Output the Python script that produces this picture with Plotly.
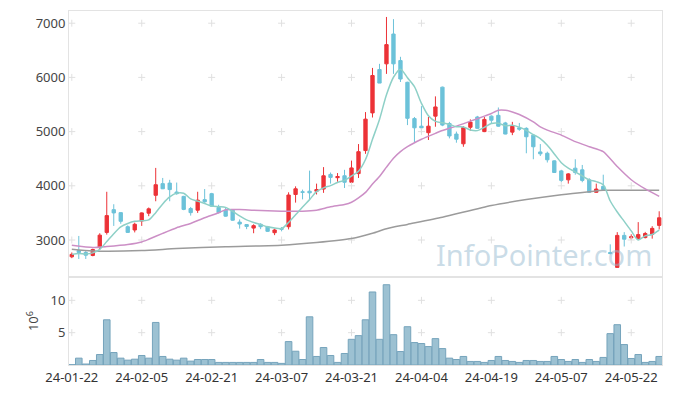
import plotly.graph_objects as go
import pandas as pd

dates = [
    "24-01-22", "24-01-23", "24-01-24", "24-01-25", "24-01-26", "24-01-29", "24-01-30", "24-01-31",
    "24-02-01", "24-02-02", "24-02-05", "24-02-06", "24-02-07", "24-02-08", "24-02-13", "24-02-14",
    "24-02-15", "24-02-16", "24-02-19", "24-02-20", "24-02-21", "24-02-22", "24-02-23", "24-02-26",
    "24-02-27", "24-02-28", "24-02-29", "24-03-04", "24-03-05", "24-03-06", "24-03-07", "24-03-08",
    "24-03-11", "24-03-12", "24-03-13", "24-03-14", "24-03-15", "24-03-18", "24-03-19", "24-03-20",
    "24-03-21", "24-03-22", "24-03-25", "24-03-26", "24-03-27", "24-03-28", "24-03-29", "24-04-01",
    "24-04-02", "24-04-03", "24-04-04", "24-04-05", "24-04-08", "24-04-09", "24-04-11", "24-04-12",
    "24-04-15", "24-04-16", "24-04-17", "24-04-18", "24-04-19", "24-04-22", "24-04-23", "24-04-24",
    "24-04-25", "24-04-26", "24-04-29", "24-04-30", "24-05-02", "24-05-03", "24-05-07", "24-05-08",
    "24-05-09", "24-05-10", "24-05-13", "24-05-14", "24-05-16", "24-05-17", "24-05-20", "24-05-21",
    "24-05-22", "24-05-23", "24-05-24", "24-05-27", "24-05-28",
]

open_ = [2690, 2805, 2770, 2715, 2860, 3140, 3560, 3505, 3245, 3185,
         3350, 3495, 3825, 4040, 4050, 3885, 3805, 3580, 3550, 3745,
         3855, 3600, 3550, 3550, 3330, 3285, 3220, 3290, 3245, 3135,
         3215, 3245, 3840, 3890, 3900, 3900, 3940, 4210, 4150, 4185,
         4065, 4225, 4650, 5345, 6145, 6250, 6800, 6310, 5910, 5240,
         5100, 4980, 5285, 5820, 5150, 4955, 4775, 5080, 5270, 5000,
         5285, 5300, 5160, 4990, 5070, 5060, 4935, 4625, 4600, 4460,
         4275, 4110, 4325, 4295, 4110, 3880, 3990, 2770, 2495, 3085,
         3040, 3025, 3045, 3105, 3270]
high = [2770, 3075, 2800, 2840, 3125, 3890, 3660, 3510, 3270, 3320,
        3510, 3600, 4330, 4145, 4110, 4060, 3815, 3610, 3890, 3940,
        3870, 3650, 3600, 3570, 3380, 3290, 3290, 3310, 3260, 3210,
        3240, 3880, 3990, 3930, 4280, 4040, 4345, 4245, 4235, 4295,
        4465, 4770, 5360, 6175, 6250, 7115, 7075, 6380, 5920, 5270,
        5470, 5270, 5650, 5830, 5180, 5000, 5100, 5225, 5290, 5270,
        5300, 5445, 5180, 5180, 5160, 5080, 4940, 4770, 4630, 4470,
        4295, 4235, 4490, 4385, 4140, 4040, 4205, 2920, 3145, 3145,
        3105, 3330, 3150, 3255, 3530]
low = [2665, 2650, 2650, 2700, 2830, 3100, 3260, 3300, 3135, 3140,
       3260, 3440, 3715, 3940, 3715, 3835, 3550, 3450, 3500, 3685,
       3615, 3490, 3430, 3355, 3210, 3200, 3125, 3200, 3150, 3090,
       3160, 3195, 3690, 3750, 3750, 3840, 3870, 4040, 4075, 3960,
       4040, 4145, 4590, 5260, 5895, 6065, 6065, 5915, 5120, 4795,
       4970, 4845, 5090, 5100, 4875, 4795, 4720, 5015, 5050, 4990,
       5140, 5090, 4950, 4935, 5015, 4600, 4490, 4550, 4430, 4240,
       4065, 4040, 4205, 4065, 3870, 3870, 3915, 2735, 2490, 2880,
       3000, 3010, 3030, 3025, 3195]
close = [2735, 2770, 2720, 2825, 3090, 3450, 3500, 3345, 3140, 3290,
         3500, 3575, 4020, 3945, 3930, 3855, 3565, 3505, 3735, 3705,
         3625, 3505, 3440, 3365, 3295, 3250, 3265, 3245, 3160, 3185,
         3200, 3830, 3945, 3880, 3870, 3930, 4185, 4155, 4170, 4065,
         4330, 4630, 5230, 6035, 5895, 6605, 6250, 5970, 5245, 5070,
         5070, 5100, 5455, 5120, 4920, 4860, 5075, 5175, 5060, 5225,
         5210, 5100, 4955, 5100, 5045, 4905, 4720, 4590, 4480, 4245,
         4100, 4220, 4245, 4100, 3880, 3940, 3930, 2750, 3085, 3015,
         3060, 3100, 3120, 3215, 3410]
volume_m = [0.05, 1.06, 0.15, 0.70, 1.62, 6.99, 1.93, 1.06, 0.75, 0.90,
            1.47, 1.06, 6.58, 1.32, 0.90, 0.75, 1.06, 0.60, 0.85, 0.85,
            0.85, 0.40, 0.40, 0.40, 0.40, 0.40, 0.40, 0.85, 0.40, 0.40,
            0.25, 3.62, 2.13, 0.85, 7.45, 1.32, 2.70, 1.47, 0.40, 1.78,
            3.97, 4.54, 6.99, 11.29, 3.97, 12.41, 4.69, 2.08, 5.92, 3.47,
            3.32, 2.85, 4.08, 2.54, 1.06, 0.85, 1.32, 0.55, 0.55, 0.40,
            0.70, 1.32, 0.70, 0.55, 0.40, 0.70, 0.70, 0.55, 0.55, 1.32,
            0.85, 0.55, 0.85, 0.40, 0.85, 0.55, 1.17, 4.85, 6.23, 3.16,
            1.01, 1.62, 0.40, 0.55, 1.32]

# 20-day average line, read at selected sessions (index into dates)
ma20_idx = [0, 3, 5, 8, 10, 11, 13, 15, 17, 19, 21, 22, 24, 26, 30, 33, 35, 37, 39, 40,
            41, 42, 43, 44, 45, 46, 47, 48, 50, 52, 53, 55, 57, 59, 60, 61, 62, 63, 64,
            66, 67, 68, 70, 72, 74, 76, 78, 80, 82, 84]
ma20_val = [2903, 2861, 2879, 2916, 2963, 3013, 3123, 3227, 3306, 3410, 3502, 3560, 3562,
            3550, 3531, 3531, 3550, 3612, 3654, 3696, 3777, 3879, 4033, 4172, 4345, 4509,
            4631, 4722, 4858, 4968, 5020, 5101, 5193, 5285, 5334, 5394, 5394, 5363, 5316,
            5180, 5089, 5028, 4936, 4814, 4722, 4631, 4356, 4112, 3942, 3806]
# long average line, read at selected sessions
malong_idx = [0, 3, 10, 15, 22, 30, 35, 40, 43, 45, 48, 53, 60, 65, 70, 74, 76, 80, 84]
malong_val = [2830, 2799, 2806, 2842, 2876, 2903, 2952, 3026, 3123, 3209, 3288, 3420,
              3636, 3746, 3837, 3892, 3916, 3916, 3916]

tick_every = 10
price_ticks = [3000, 4000, 5000, 6000, 7000]
vol_ticks = [5, 10]

ma5 = pd.Series(close).rolling(5, min_periods=1).mean().tolist()
tick_dates = dates[::tick_every]

RED = "#ec3237"
BLUE = "#6cc2d9"
FONT = "Noto Sans"

fig = go.Figure()

fig.add_trace(go.Candlestick(
    x=dates, open=open_, high=high, low=low, close=close,
    increasing=dict(line=dict(color=RED, width=1), fillcolor=RED),
    decreasing=dict(line=dict(color=BLUE, width=1), fillcolor=BLUE),
    whiskerwidth=0, xaxis="x", yaxis="y", showlegend=False, hoverinfo="skip"))

fig.add_trace(go.Bar(x=dates, y=volume_m, xaxis="x2", yaxis="y2",
                     marker=dict(color="#9cc1d2", line=dict(color="#76a4bc", width=1)),
                     showlegend=False, hoverinfo="skip"))

# grid "+" marks at tick intersections
gx = [d for d in tick_dates for _ in price_ticks]
gy = [p for _ in tick_dates for p in price_ticks]
fig.add_trace(go.Scatter(x=gx, y=gy, mode="markers", xaxis="x", yaxis="y",
                         marker=dict(symbol="cross-thin", size=5,
                                     line=dict(color="#e0e0e0", width=1)),
                         hoverinfo="skip", showlegend=False))
gx2 = [d for d in tick_dates for _ in vol_ticks]
gy2 = [v for _ in tick_dates for v in vol_ticks]
fig.add_trace(go.Scatter(x=gx2, y=gy2, mode="markers", xaxis="x2", yaxis="y2",
                         marker=dict(symbol="cross-thin", size=5,
                                     line=dict(color="#e0e0e0", width=1)),
                         hoverinfo="skip", showlegend=False))

fig.add_trace(go.Scatter(x=[dates[i] for i in malong_idx], y=malong_val, mode="lines",
                         line=dict(color="#9b9b9b", width=1.5, shape="spline", smoothing=0.6),
                         xaxis="x", yaxis="y", showlegend=False))
fig.add_trace(go.Scatter(x=[dates[i] for i in ma20_idx], y=ma20_val, mode="lines",
                         line=dict(color="#cc8fc6", width=1.5, shape="spline", smoothing=0.5),
                         xaxis="x", yaxis="y", showlegend=False))
fig.add_trace(go.Scatter(x=dates, y=ma5, mode="lines",
                         line=dict(color="#8ed0c7", width=1.5, shape="spline", smoothing=0.8),
                         xaxis="x", yaxis="y", showlegend=False))

axis_line = "#e3e3e3"
split = 0.2485
fig.update_layout(
    width=673, height=396,
    margin=dict(l=69, r=10, t=10, b=29),
    paper_bgcolor="white", plot_bgcolor="white",
    font=dict(family=FONT, size=13, color="#444"),
    boxgap=0.32, bargap=0.06,
    xaxis=dict(type="category", categoryorder="array", categoryarray=dates,
               range=[-0.4, 84.4], domain=[0, 1], anchor="y",
               showticklabels=False, showgrid=False, zeroline=False,
               showline=True, mirror=True, linecolor=axis_line, linewidth=1,
               rangeslider=dict(visible=False), ticks=""),
    yaxis=dict(domain=[split, 1], range=[2317, 7225], tickvals=price_ticks,
               showgrid=False, zeroline=False, showline=True, mirror=True,
               linecolor=axis_line, linewidth=1, ticks="", anchor="x",
               tickfont=dict(size=13, color="#444")),
    xaxis2=dict(type="category", categoryorder="array", categoryarray=dates,
                range=[-0.4, 84.4], domain=[0, 1], anchor="y2",
                matches="x", tickvals=tick_dates, ticktext=tick_dates,
                showgrid=False, zeroline=False, showline=True, mirror=True,
                linecolor=axis_line, linewidth=1, ticks="", tickangle=0,
                tickfont=dict(size=13, color="#333")),
    yaxis2=dict(domain=[0, split], range=[0, 13.6], tickvals=vol_ticks,
                showgrid=False, zeroline=False, showline=True, mirror=True,
                linecolor=axis_line, linewidth=1, ticks="", anchor="x2",
                title=dict(text="10<sup>6</sup>", font=dict(size=13, color="#444"), standoff=8),
                tickfont=dict(size=13, color="#444")),
    annotations=[dict(text="InfoPointer.com", xref="paper", yref="paper",
                      x=0.9865, y=0.311, xanchor="right", yanchor="middle",
                      showarrow=False,
                      font=dict(family=FONT, size=29, color="rgba(150,186,208,0.5)"))],
)

fig.write_html("out.html", config={"displayModeBar": False},
               post_script="document.body.style.margin='0';document.body.style.overflow='hidden';")
